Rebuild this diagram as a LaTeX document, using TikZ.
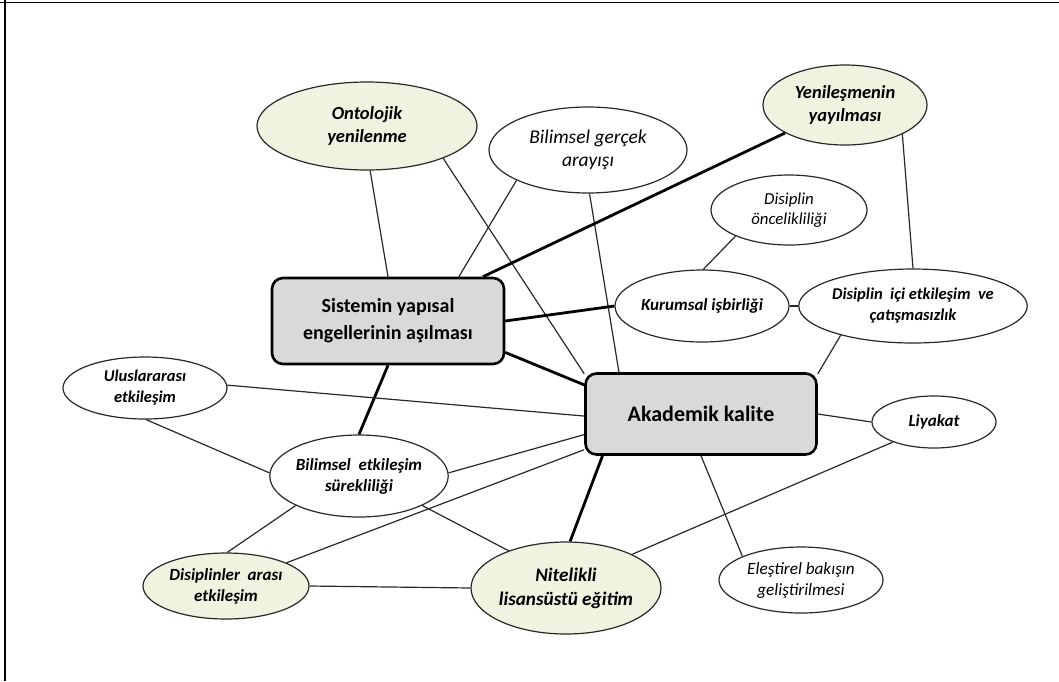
\documentclass[tikz,border=0pt]{standalone}
\usepackage{fontspec}
\setmainfont{Carlito}
\usetikzlibrary{shapes.geometric,backgrounds}
\definecolor{creamc}{RGB}{242,242,224}
\definecolor{boxgray}{RGB}{217,217,217}
\definecolor{linec}{RGB}{40,40,40}
\begin{document}
\begin{tikzpicture}[x=1pt,y=-1pt,
  elbase/.style={ellipse, draw=linec, line width=1.2pt, inner sep=0pt, align=center, text=black},
  creamel/.style={elbase, fill=creamc, font=\fontsize{18.5}{23}\selectfont\bfseries\itshape},
  whiteel/.style={elbase, fill=white, font=\fontsize{17}{21}\selectfont\bfseries\itshape},
  lightel/.style={elbase, fill=white, font=\fontsize{19.5}{23}\selectfont\itshape},
  mainbox/.style={rectangle, rounded corners=11pt, draw=black, line width=2.6pt, fill=boxgray, align=center, inner sep=0pt},
  thinln/.style={draw=linec, line width=1.2pt},
  thickln/.style={draw=black, line width=2.8pt}]
\useasboundingbox (0,0) rectangle (1059,681);
\draw[line width=1.6pt] (0,2.5) -- (1059,2.5);
\draw[line width=1.6pt] (5,0) -- (5,681);

% main boxes
\node[mainbox, minimum width=232pt, minimum height=86pt, font=\fontsize{20}{27}\selectfont\bfseries] (S) at (388,321) {Sistemin yapısal\\engellerinin aşılması};
\node[mainbox, minimum width=231pt, minimum height=81pt, font=\fontsize{22}{26}\selectfont\bfseries] (A) at (701,414) {Akademik kalite};

% cream ellipses
\node[creamel, minimum width=220pt, minimum height=88pt] (O) at (367,126) {Ontolojik\\yenilenme};
\node[creamel, minimum width=164pt, minimum height=80pt] (Y) at (845,105) {Yenileşmenin\\yayılması};
\node[creamel, minimum width=156pt, minimum height=92pt, font=\fontsize{19.2}{24}\selectfont\bfseries\itshape] (N) at (566,588) {Nitelikli\\lisansüstü eğitim};
\node[creamel, minimum width=166pt, minimum height=66pt, font=\fontsize{17}{21}\selectfont\bfseries\itshape] (I) at (226,586) {Disiplinler~ arası\\etkileşim};

% white ellipses
\node[lightel, minimum width=198pt, minimum height=86pt] (B) at (588,150) {Bilimsel gerçek\\arayışı};
\node[lightel, minimum width=156pt, minimum height=70pt, font=\fontsize{16.8}{20}\selectfont\itshape] (P) at (789,210) {Disiplin\\öncelikliliği};
\node[whiteel, minimum width=174pt, minimum height=72pt] (K) at (702,306) {Kurumsal işbirliği};
\node[whiteel, minimum width=198pt, minimum height=74pt, font=\fontsize{16.5}{21}\selectfont\bfseries\itshape] (D) at (913,306) {Disiplin~ içi etkileşim~ ve\\çatışmasızlık};
\node[whiteel, minimum width=164pt, minimum height=62pt, font=\fontsize{16.5}{21}\selectfont\bfseries\itshape] (U) at (145,388) {Uluslararası\\etkileşim};
\node[whiteel, minimum width=172pt, minimum height=82pt] (E) at (359,476) {Bilimsel~ etkileşim\\sürekliliği};
\node[whiteel, minimum width=124pt, minimum height=52pt] (L) at (934,422) {Liyakat};
\node[lightel, minimum width=164pt, minimum height=66pt, font=\fontsize{17.2}{21}\selectfont\itshape] (R) at (801,580) {Eleştirel bakışın\\geliştirilmesi};

\begin{pgfonlayer}{background}
\draw[thinln] (O.-86) -- (S.north);
\draw[thinln] (O.-23.5) -- (A.161);
\draw[thinln] (B.203) -- (S.32);
\draw[thinln] (B.-88) -- (A.153);
\draw[thickln] (Y.205) -- (S.25);
\draw[thinln] (Y.-27) -- (D.north);
\draw[thinln] (P.206) -- (K.88);
\draw[thinln] (K.east) -- (D.west);
\draw[thickln] (S.east) -- (K.west);
\draw[thinln] (D.202) -- (A.19);
\draw[thickln] (S.-15) -- (A.166);
\draw[thickln] (S.south) -- (E.north);
\draw[thinln] (U.2) -- (A.181);
\draw[thinln] (U.-88) -- (E.178);
\draw[thinln] (E.2) -- (A.190);
\draw[thinln] (E.205) -- (I.88);
\draw[thinln] (E.-25.5) -- (N.147);
\draw[thinln] (I.21.5) -- (A.197);
\draw[thinln] (I.east) -- (N.west);
\draw[thickln] (A.203) -- (N.85);
\draw[thinln] (A.east) -- (L.west);
\draw[thinln] (A.south) -- (R.158);
\draw[thinln] (L.206) -- (N.27);
\end{pgfonlayer}
\end{tikzpicture}
\end{document}
